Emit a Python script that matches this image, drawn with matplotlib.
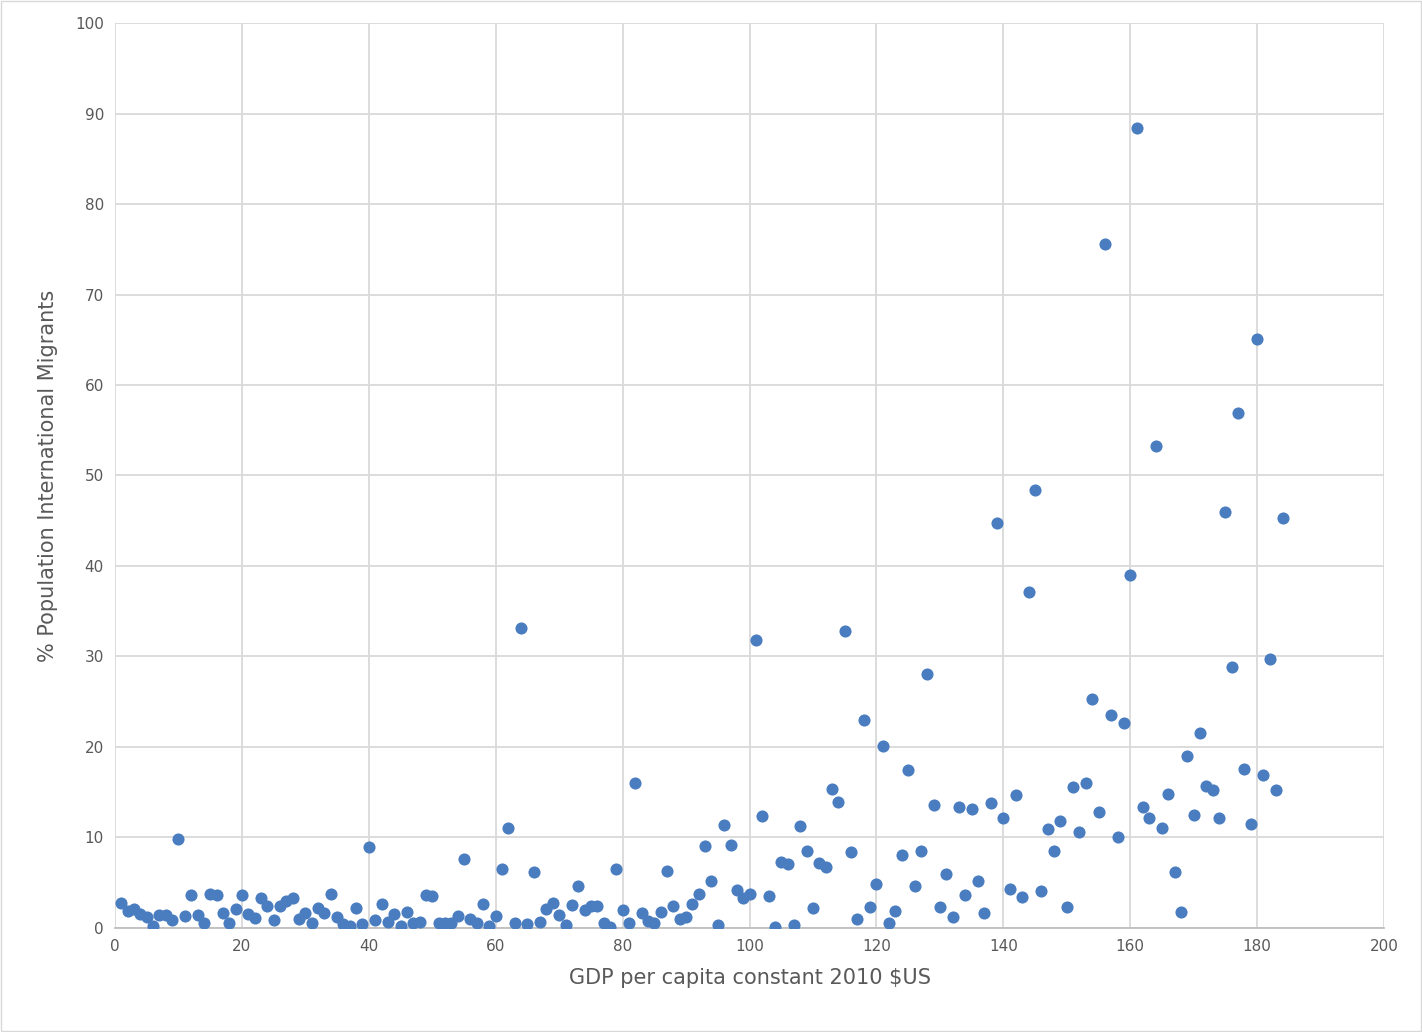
import matplotlib.pyplot as plt
import numpy as np

# % population international migrants, one point per country, ranked by GDP per capita
migrants = [
    2.8, 1.9, 2.1, 1.5, 1.2, 0.2, 1.4, 1.4, 0.9, 9.8,
    1.3, 3.6, 1.4, 0.5, 3.8, 3.6, 1.7, 0.5, 2.1, 3.6,
    1.5, 1.1, 3.3, 2.4, 0.9, 2.4, 3.0, 3.3, 1.0, 1.7,
    0.6, 2.2, 1.7, 3.7, 1.2, 0.4, 0.2, 2.2, 0.4, 9.0,
    0.9, 2.7, 0.7, 1.5, 0.2, 1.8, 0.5, 0.7, 3.6, 3.5,
    0.5, 0.5, 0.6, 1.3, 7.6, 1.0, 0.6, 2.6, 0.2, 1.3,
    6.5, 11.1, 0.6, 33.2, 0.4, 6.2, 0.7, 2.1, 2.8, 1.4,
    0.3, 2.5, 4.6, 2.0, 2.4, 2.4, 0.6, 0.1, 6.5, 2.0,
    0.6, 16.0, 1.6, 0.8, 0.6, 1.8, 6.3, 2.4, 1.0, 1.2,
    2.6, 3.7, 9.1, 5.2, 0.3, 11.4, 9.2, 4.2, 3.3, 3.8,
    31.8, 12.4, 3.5, 0.1, 7.3, 7.1, 0.3, 11.3, 8.5, 2.2,
    7.2, 6.7, 15.4, 13.9, 32.8, 8.4, 1.0, 23.0, 2.3, 4.9,
    20.1, 0.5, 1.9, 8.1, 17.5, 4.6, 8.5, 28.1, 13.6, 2.3,
    6.0, 1.2, 13.4, 3.6, 13.2, 5.2, 1.7, 13.8, 44.7, 12.1,
    4.3, 14.7, 3.4, 37.1, 48.4, 4.1, 10.9, 8.5, 11.8, 2.3,
    15.6, 10.6, 16.0, 25.3, 12.8, 75.6, 23.5, 10.0, 22.7, 39.0,
    88.4, 13.4, 12.2, 53.3, 11.1, 14.8, 6.2, 1.8, 19.0, 12.5,
    21.5, 15.7, 15.3, 12.1, 46.0, 28.8, 56.9, 17.6, 11.5, 65.1,
    16.9, 29.7, 15.2, 45.3,
]
rank = np.arange(1, len(migrants) + 1)

fig = plt.figure(figsize=(14.22, 10.32), dpi=100)
ax = fig.add_axes([0.0809, 0.1008, 0.8924, 0.8769])

ax.scatter(rank, migrants, s=76, color="#4A7CC0", zorder=3, linewidths=0)

ax.set_xlim(0, 200)
ax.set_ylim(0, 100)
ax.set_xticks(range(0, 201, 20))
ax.set_yticks(range(0, 101, 10))
ax.grid(color="#D9D9D9", linewidth=1.3)
ax.set_axisbelow(True)
for s in ["top", "right", "left"]:
    ax.spines[s].set_visible(False)
ax.spines["bottom"].set_color("#BFBFBF")
ax.spines["bottom"].set_linewidth(1.3)
ax.tick_params(length=0, labelsize=11, colors="#595959", pad=8)

ax.set_xlabel("GDP per capita constant 2010 $US", fontsize=15, color="#595959", labelpad=10)
ax.set_ylabel("% Population International Migrants", fontsize=15, color="#595959", labelpad=12)

fig.patches.append(plt.Rectangle((0.001, 0.001), 0.998, 0.998, transform=fig.transFigure,
                                 fill=False, edgecolor="#D9D9D9", linewidth=1))

fig.savefig("out.png", dpi=100)
